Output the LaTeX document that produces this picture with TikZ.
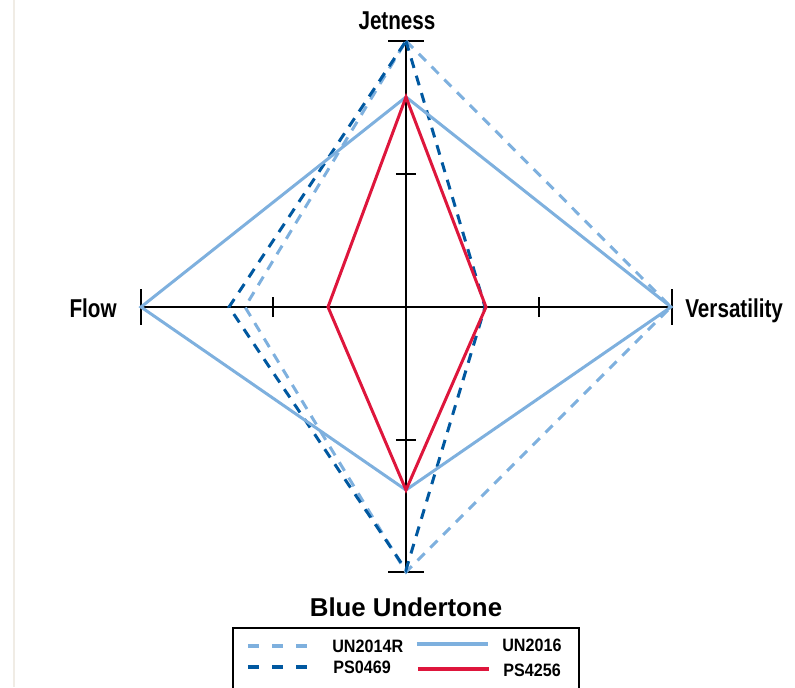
\documentclass[tikz,border=0pt]{standalone}
\usepackage{fontspec}
\setmainfont{Liberation Sans}
\newfontfamily\axisfont[FakeStretch=0.8]{Liberation Sans}
\newfontfamily\keyfont[FakeStretch=0.9]{Liberation Sans}
\definecolor{lightblu}{RGB}{126,176,222}
\definecolor{darkblu}{RGB}{0,88,160}
\definecolor{redline}{RGB}{222,22,60}
\definecolor{edgegray}{RGB}{240,236,229}

\begin{document}
\begin{tikzpicture}[x=0.02cm, y=0.02cm,
  axis/.style   = {draw=black, line width=0.75pt},
  tick/.style   = {draw=black, line width=0.75pt},
  lab/.style    = {inner sep=0pt, font=\axisfont\bfseries\fontsize{14.7}{17}\selectfont},
  keylab/.style = {inner sep=0pt, font=\keyfont\bfseries\fontsize{10.2}{12}\selectfont},
  dsh/.style    = {dash pattern=on 5.7pt off 4.6pt},
  un14/.style   = {lightblu, line width=1.7pt, dsh},
  ps69/.style   = {darkblu, line width=1.7pt, dsh},
  un16/.style   = {lightblu, line width=1.7pt},
  ps56/.style   = {redline, line width=1.7pt},
  ]
  \useasboundingbox (-406,-380) rectangle (389,307);
  \draw[edgegray, line width=0.75pt] (-392,307) -- (-392,-380);

  % Axes
  \coordinate (jt) at (0,266);
  \coordinate (un) at (0,-265);
  \coordinate (fl) at (-265,0);
  \coordinate (vs) at (266,0);
  \draw[axis] (jt) -- (un);
  \draw[axis] (fl) -- (vs);
  \draw[tick] ([xshift=-10]jt) -- ([xshift=10]jt);
  \draw[tick] ([xshift=-10]un) -- ([xshift=10]un);
  \draw[tick] ([yshift=-10]fl) -- ([yshift=10]fl);
  \draw[tick] ([yshift=-10]vs) -- ([yshift=10]vs);
  \draw[tick] (-10,133) -- (10,133);
  \draw[tick] (-10,-133) -- (10,-133);
  \draw[tick] (-133,-10) -- (-133,10);
  \draw[tick] (133,-10) -- (133,10);

  % Axis labels
  \node (jetness) at (-9,277)   [lab, anchor=base]      {Jetness};
  \node (flow)    at (-289,-10) [lab, anchor=base east] {Flow};
  \node (vers)    at (279,-10)  [lab, anchor=base west] {Versatility};
  \node (title)   at (0,-309)   [inner sep=0pt, anchor=base, font=\bfseries\fontsize{14.7}{17}\selectfont] {Blue Undertone};

  % Samples
  \draw[un14] (0,266) -- (265,0) -- (0,-265) -- (-161,0) -- cycle;
  \draw[ps69] (0,266) -- (79,0) -- (0,-263) -- (-177,0) -- cycle;
  \draw[un16] (0,210) -- (265,0) -- (0,-183) -- (-265,0) -- cycle;
  \draw[ps56] (0,210) -- (80,0) -- (0,-183) -- (-78,0) -- cycle;

  % Legend
  \draw[black, line width=1.3pt] (-173,-400) rectangle (173,-321);
  \draw[un14, line width=2.2pt, dash pattern=on 6.3pt off 7.4pt] (-158,-339) -- (-98,-339);
  \draw[ps69, line width=2.2pt, dash pattern=on 6.3pt off 7.4pt] (-158,-360) -- (-98,-360);
  \draw[un16, line width=2.2pt] (11,-337) -- (82,-337);
  \draw[ps56, line width=2.2pt] (12,-362) -- (83,-362);
  \node (k1) at (-74,-345.5) [keylab, anchor=base west] {UN2014R};
  \node (k2) at (-73,-366.5) [keylab, anchor=base west] {PS0469};
  \node (k3) at (96,-344.5)  [keylab, anchor=base west] {UN2016};
  \node (k4) at (97,-369.5)  [keylab, anchor=base west] {PS4256};
\end{tikzpicture}
\end{document}
